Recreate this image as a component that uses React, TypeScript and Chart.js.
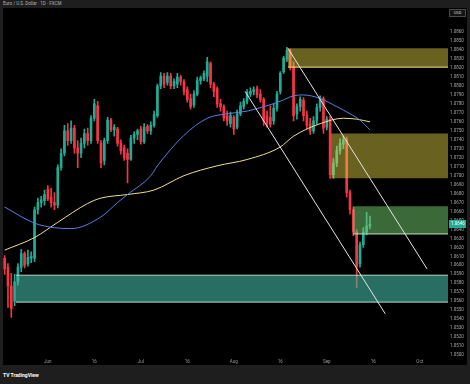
import React, { useEffect, useRef } from "react";
import { Chart, registerables } from "chart.js";

Chart.register(...registerables);

const titleText = "Euro / U.S. Dollar · 1D · FXCM";
const currencyLabel = "USD";

const opens = [
  1.0608, 1.0598, 1.0577, 1.056, 1.0582, 1.0598, 1.0613, 1.0602, 1.0608, 1.0608,
  1.0662, 1.067, 1.0672, 1.0685, 1.0676, 1.067, 1.0667, 1.0709, 1.0725, 1.075,
  1.0739, 1.0753, 1.0731, 1.0725, 1.0736, 1.0747, 1.0739, 1.0764, 1.0778, 1.0736,
  1.0717, 1.0739, 1.0762, 1.0751, 1.0752, 1.0736, 1.0731, 1.0725, 1.0718, 1.0742,
  1.0746, 1.0752, 1.0738, 1.0755, 1.075, 1.0756, 1.0767, 1.08, 1.0811, 1.0804,
  1.0811, 1.08, 1.0802, 1.081, 1.0805, 1.0796, 1.0786, 1.0779, 1.0791, 1.0806,
  1.0808, 1.0811, 1.0825, 1.0802, 1.0797, 1.078, 1.0777, 1.0767, 1.0758, 1.0765,
  1.0754, 1.0769, 1.0777, 1.0783, 1.0791, 1.0794, 1.0797, 1.0791, 1.0785, 1.0767,
  1.0765, 1.0761, 1.0775, 1.0794, 1.0816, 1.083, 1.0838, 1.0822, 1.0769, 1.0777,
  1.0784, 1.0767, 1.0758, 1.075, 1.0761, 1.0776, 1.0786, 1.0754, 1.0763, 1.0701,
  1.0714, 1.0728, 1.0735, 1.074, 1.0681, 1.0662, 1.0637, 1.0602, 1.0623, 1.0637,
  1.0644,
];
const highs = [
  1.0611, 1.0602, 1.0591, 1.059, 1.0602, 1.0618, 1.0615, 1.0617, 1.0615, 1.0665,
  1.0675, 1.0677, 1.0684, 1.0689, 1.0686, 1.0681, 1.0712, 1.073, 1.0756, 1.0758,
  1.0761, 1.0756, 1.0739, 1.0742, 1.0752, 1.0753, 1.0767, 1.0785, 1.0783, 1.0739,
  1.0742, 1.0765, 1.0764, 1.0757, 1.0754, 1.074, 1.0734, 1.073, 1.0745, 1.0749,
  1.0752, 1.0755, 1.0758, 1.0757, 1.076, 1.0772, 1.0802, 1.0815, 1.0814, 1.0815,
  1.0814, 1.0808, 1.0814, 1.0812, 1.0807, 1.0799, 1.0791, 1.0795, 1.081, 1.0811,
  1.0817, 1.0832, 1.0827, 1.0804, 1.0799, 1.0785, 1.0779, 1.0772, 1.0771, 1.0767,
  1.0773, 1.0782, 1.0786, 1.0796, 1.0798, 1.0799, 1.08, 1.0796, 1.0787, 1.0772,
  1.0778, 1.078, 1.0794, 1.0816, 1.0833, 1.0843, 1.0841, 1.0827, 1.078, 1.0788,
  1.0787, 1.0772, 1.0764, 1.0766, 1.078, 1.0789, 1.0788, 1.0766, 1.0766, 1.0719,
  1.0733, 1.0741, 1.0744, 1.0743, 1.0684, 1.0665, 1.064, 1.0626, 1.0642, 1.0659,
  1.0655,
];
const lows = [
  1.059, 1.0553, 1.0542, 1.0555, 1.0578, 1.0593, 1.0597, 1.0599, 1.0603, 1.0604,
  1.0657, 1.0665, 1.0667, 1.0672, 1.0665, 1.0662, 1.0664, 1.0706, 1.0722, 1.0734,
  1.0736, 1.0725, 1.0709, 1.072, 1.0731, 1.0734, 1.0736, 1.0761, 1.0736, 1.0709,
  1.0712, 1.0736, 1.0749, 1.0744, 1.0733, 1.0724, 1.0717, 1.0692, 1.0717, 1.0736,
  1.074, 1.0735, 1.0736, 1.0747, 1.0746, 1.0754, 1.0765, 1.0797, 1.0798, 1.0801,
  1.0797, 1.0797, 1.0798, 1.0801, 1.079, 1.0782, 1.0774, 1.0776, 1.0789, 1.0802,
  1.0806, 1.0805, 1.0798, 1.0788, 1.0776, 1.0772, 1.0761, 1.0756, 1.0754, 1.0746,
  1.0752, 1.0767, 1.0774, 1.078, 1.0788, 1.079, 1.0787, 1.0782, 1.0756, 1.0754,
  1.0754, 1.0757, 1.0772, 1.0791, 1.0814, 1.0827, 1.0818, 1.0761, 1.0763, 1.0772,
  1.0761, 1.0752, 1.0746, 1.0747, 1.0757, 1.0772, 1.0747, 1.0751, 1.0697, 1.0697,
  1.071, 1.0724, 1.073, 1.0676, 1.0657, 1.0633, 1.0575, 1.0598, 1.062, 1.0634,
  1.0641,
];
const closes = [
  1.0596, 1.0577, 1.0552, 1.0582, 1.0598, 1.0613, 1.06, 1.0609, 1.061, 1.0662,
  1.067, 1.0673, 1.0679, 1.0674, 1.067, 1.0667, 1.0709, 1.0725, 1.075, 1.0739,
  1.0753, 1.0731, 1.0725, 1.0736, 1.0747, 1.0739, 1.0764, 1.078, 1.0739, 1.0714,
  1.0739, 1.0762, 1.0751, 1.0754, 1.0736, 1.0728, 1.072, 1.0718, 1.0742, 1.0746,
  1.075, 1.0738, 1.0754, 1.075, 1.0756, 1.0768, 1.08, 1.0811, 1.0802, 1.0811,
  1.08, 1.0805, 1.081, 1.0805, 1.0794, 1.0785, 1.0777, 1.0791, 1.0806, 1.0809,
  1.0814, 1.0827, 1.0802, 1.0794, 1.078, 1.0777, 1.0764, 1.0761, 1.0767, 1.0752,
  1.0769, 1.0778, 1.0783, 1.0793, 1.0794, 1.0796, 1.079, 1.0785, 1.0761, 1.0758,
  1.0757, 1.0775, 1.0791, 1.0814, 1.0831, 1.084, 1.0822, 1.0767, 1.0777, 1.0785,
  1.0767, 1.0756, 1.075, 1.0761, 1.0776, 1.0786, 1.0753, 1.0763, 1.0701, 1.0714,
  1.0728, 1.0736, 1.074, 1.0681, 1.0662, 1.0637, 1.0599, 1.0623, 1.0637, 1.0644,
  1.0646,
];

// moving averages, read at points along the lines (candle index, price)
const maFastIdx = [0, 9, 15, 20, 29, 34, 37, 44, 46, 54, 61, 67, 73, 79, 83, 87, 90, 95, 100, 104, 107, 110];
const maFast = [1.0665, 1.0647, 1.0642, 1.0641, 1.0654, 1.067, 1.0679, 1.07, 1.0711, 1.0745, 1.0764, 1.0769, 1.0772, 1.0778, 1.0783, 1.0789, 1.079, 1.0786, 1.0777, 1.0769, 1.0762, 1.0751];
const maSlowIdx = [0, 9, 16, 25, 29, 37, 45, 54, 64, 73, 83, 87, 95, 102, 106, 110];
const maSlow = [1.0617, 1.0631, 1.0648, 1.0669, 1.0675, 1.0679, 1.0684, 1.07, 1.0711, 1.0718, 1.0732, 1.0744, 1.0758, 1.0764, 1.0763, 1.076];

// trend channel lines (candle index, price)
const trendUpperX = [85.3, 127.2];
const trendUpperY = [1.0842, 1.0596];
const trendLowerX = [72.4, 114.6];
const trendLowerY = [1.0794, 1.0546];

// zones: start index, top price, bottom price (extend to the right edge)
const zoneStart = [85.3, 98.3, 104.9, 3.4];
const zoneTop = [1.0842, 1.0747, 1.0666, 1.0589];
const zoneBottom = [1.0821, 1.0697, 1.0635, 1.0559];

const timeTickIdx = [13, 27, 41, 55, 69, 83, 97, 111, 125];
const timeTickLabels = ["Jun", "16", "Jul", "16", "Aug", "16", "Sep", "16", "Oct"];

const priceTicks = [
  1.05, 1.051, 1.052, 1.053, 1.054, 1.055, 1.056, 1.057, 1.058, 1.059,
  1.06, 1.061, 1.062, 1.063, 1.064, 1.065, 1.066, 1.067, 1.068, 1.069,
  1.07, 1.071, 1.072, 1.073, 1.074, 1.075, 1.076, 1.077, 1.078, 1.079,
  1.08, 1.081, 1.082, 1.083, 1.084, 1.085, 1.086,
];

const X_MIN = -0.5;
const X_MAX = 133.5;
const Y_MIN = 1.04967;
const Y_MAX = 1.08817;

const UP = "#22ab94";
const DOWN = "#f23645";
const zoneColors = [
  "rgba(232,216,70,0.45)",
  "rgba(232,216,70,0.45)",
  "rgba(120,210,112,0.5)",
  "rgba(66,178,158,0.62)",
];
// [zone index, edge, color]
const zoneEdges: [number, "top" | "bottom", string][] = [
  [0, "bottom", "#efe48e"],
  [2, "bottom", "#c8dcc4"],
  [3, "top", "#b9d9d0"],
  [3, "bottom", "#b9d9d0"],
];

const lastPricePlugin = {
  id: "lastPrice",
  afterDraw(chart: any) {
    const ys = chart.scales.y;
    const last = closes[closes.length - 1];
    const y = ys.getPixelForValue(last);
    const ctx = chart.ctx;
    const x0 = chart.chartArea.right + 1;
    ctx.save();
    ctx.fillStyle = last >= opens[opens.length - 1] ? UP : DOWN;
    ctx.fillRect(x0, Math.round(y) - 4, 17, 8);
    ctx.fillStyle = "#ffffff";
    ctx.font = "4.5px Roboto";
    ctx.textBaseline = "middle";
    ctx.fillText(last.toFixed(4), x0 + 2, Math.round(y));
    ctx.restore();
  },
};

export default function App() {
  const ref = useRef<HTMLCanvasElement | null>(null);

  useEffect(() => {
    if (!ref.current) return;
    const colors = opens.map((o, i) => (closes[i] >= o ? UP : DOWN));

    const datasets: any[] = [];
    datasets.push({
      type: "line",
      data: trendUpperX.map((x, i) => ({ x, y: trendUpperY[i] })),
      borderColor: "#e6e6e6",
      borderWidth: 1,
      pointRadius: 0,
      fill: false,
      order: 1,
    });
    datasets.push({
      type: "line",
      data: trendLowerX.map((x, i) => ({ x, y: trendLowerY[i] })),
      borderColor: "#e6e6e6",
      borderWidth: 1,
      pointRadius: 0,
      fill: false,
      order: 1,
    });
    zoneEdges.forEach(([k, edge, color]) => {
      const v = edge === "top" ? zoneTop[k] : zoneBottom[k];
      datasets.push({
        type: "line",
        data: [
          { x: zoneStart[k], y: v },
          { x: X_MAX, y: v },
        ],
        borderColor: color,
        borderWidth: 1,
        pointRadius: 0,
        fill: false,
        order: 2,
      });
    });
    zoneStart.forEach((x0, k) => {
      datasets.push({
        type: "line",
        data: [
          { x: x0, y: zoneTop[k] },
          { x: X_MAX, y: zoneTop[k] },
        ],
        borderColor: "rgba(0,0,0,0)",
        borderWidth: 0,
        pointRadius: 0,
        backgroundColor: zoneColors[k],
        fill: { value: zoneBottom[k] },
        order: 3,
      });
    });
    datasets.push({
      type: "line",
      data: maFastIdx.map((x, i) => ({ x, y: maFast[i] })),
      borderColor: "#5b7fe0",
      borderWidth: 1,
      pointRadius: 0,
      cubicInterpolationMode: "monotone",
      fill: false,
      order: 4,
    });
    datasets.push({
      type: "line",
      data: maSlowIdx.map((x, i) => ({ x, y: maSlow[i] })),
      borderColor: "#efe08c",
      borderWidth: 1,
      pointRadius: 0,
      cubicInterpolationMode: "monotone",
      fill: false,
      order: 4,
    });
    datasets.push({
      type: "bar",
      data: opens.map((o, i) => ({ x: i, y: [o, closes[i]] })),
      backgroundColor: colors,
      borderWidth: 0,
      barThickness: 2,
      minBarLength: 1,
      grouped: false,
      order: 5,
    });
    datasets.push({
      type: "bar",
      data: highs.map((h, i) => ({ x: i, y: [lows[i], h] })),
      backgroundColor: colors,
      borderWidth: 0,
      barThickness: 1,
      grouped: false,
      order: 6,
    });

    const chart = new Chart(ref.current, {
      type: "bar",
      data: { datasets },
      options: {
        animation: false,
        responsive: false,
        maintainAspectRatio: false,
        events: [],
        layout: { padding: 0 },
        plugins: {
          legend: { display: false },
          tooltip: { enabled: false },
          title: { display: false },
        },
        scales: {
          x: {
            type: "linear",
            min: X_MIN,
            max: X_MAX,
            offset: false,
            grid: { display: false, drawTicks: false },
            border: { display: false },
            afterBuildTicks: (s: any) => {
              s.ticks = timeTickIdx.map((v) => ({ value: v }));
            },
            afterFit: (s: any) => {
              s.height = 7;
            },
            ticks: {
              autoSkip: false,
              maxRotation: 0,
              padding: 1,
              color: "#9a9a9a",
              font: { size: 4.5, family: "Roboto" },
              callback: (v: any) => {
                const k = timeTickIdx.indexOf(Number(v));
                return k >= 0 ? timeTickLabels[k] : "";
              },
            },
          },
          y: {
            type: "linear",
            position: "right",
            min: Y_MIN,
            max: Y_MAX,
            grid: { display: false, drawTicks: false },
            border: { display: false },
            afterBuildTicks: (s: any) => {
              s.ticks = priceTicks.map((v) => ({ value: v }));
            },
            afterFit: (s: any) => {
              s.width = 19;
            },
            ticks: {
              autoSkip: false,
              padding: 2,
              color: "#a8a8a8",
              font: { size: 4.5, family: "Roboto" },
              callback: (v: any) => Number(v).toFixed(4),
            },
          },
        },
      } as any,
      plugins: [lastPricePlugin],
    });
    return () => chart.destroy();
  }, []);

  return (
    <div
      style={{
        position: "fixed",
        left: 0,
        top: 0,
        width: 470,
        height: 384,
        background: "#1e1e1e",
        overflow: "hidden",
        fontFamily: "Roboto, sans-serif",
      }}
    >
      <div
        style={{
          position: "absolute",
          left: 3,
          top: 1,
          fontSize: 4.5,
          lineHeight: "6px",
          color: "#b4b4b4",
          whiteSpace: "nowrap",
        }}
      >
        {titleText}
      </div>
      <canvas
        ref={ref}
        width={464}
        height={357}
        style={{ position: "absolute", left: 3, top: 8, width: 464, height: 357, background: "#000" }}
      />
      <div
        style={{
          position: "absolute",
          left: 449,
          top: 9,
          width: 15,
          height: 6,
          border: "1px solid #4a4a4a",
          background: "#141414",
          fontSize: 4,
          lineHeight: "6px",
          color: "#dddddd",
          textAlign: "center",
        }}
      >
        {currencyLabel}
      </div>
      <div
        style={{
          position: "absolute",
          left: 3,
          top: 372,
          fontSize: 5,
          lineHeight: "6px",
          fontWeight: 700,
          color: "#ffffff",
          whiteSpace: "nowrap",
        }}
      >
        TV TradingView
      </div>
    </div>
  );
}
